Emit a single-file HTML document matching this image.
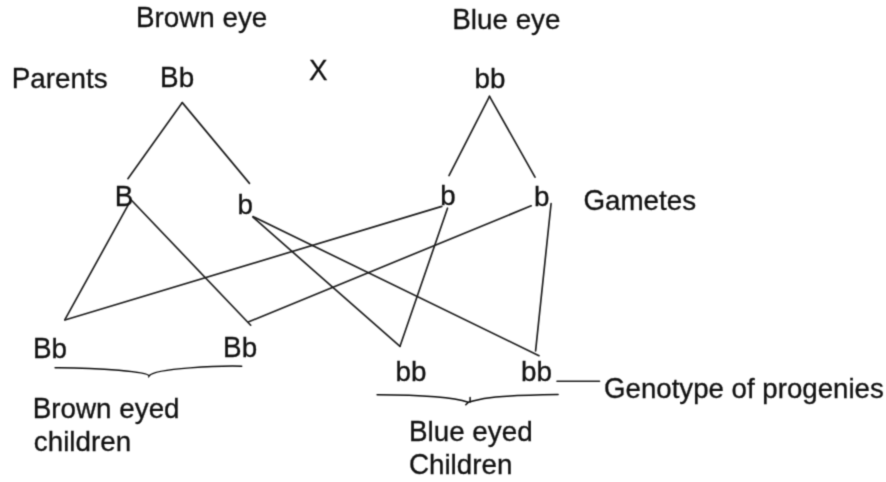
<!DOCTYPE html>
<html><head><meta charset="utf-8"><style>html,body{margin:0;padding:0;background:#fff;width:886px;height:482px;overflow:hidden}svg{position:absolute;left:0;top:0}text{font-family:"Liberation Sans",sans-serif;font-size:27.8px;fill:#111;stroke:#111;stroke-width:0.3px}tspan.h{fill:none;stroke:none}</style></head><body>
<svg width="886" height="482" viewBox="0 0 886 482">
<defs><filter id="bl" x="0" y="0" width="886" height="482" filterUnits="userSpaceOnUse" color-interpolation-filters="sRGB"><feConvolveMatrix order="3" kernelMatrix="0.02768 0.11101 0.02768 0.11101 0.44521 0.11101 0.02768 0.11101 0.02768" edgeMode="duplicate" preserveAlpha="false"/></filter></defs><g filter="url(#bl)"><rect width="886" height="482" fill="#fff"/>
<g stroke="#1c1c1c" stroke-width="1.65" fill="none" stroke-linecap="round" stroke-linejoin="round">
<line x1="182.3" y1="102.6" x2="127.9" y2="178.7"/>
<line x1="182.3" y1="102.6" x2="249.5" y2="183.4"/>
<line x1="489.5" y1="96.3" x2="449.0" y2="175.6"/>
<line x1="489.5" y1="96.3" x2="535.0" y2="177.2"/>
<line x1="128.2" y1="204.9" x2="64.9" y2="319.7"/>
<line x1="131.0" y1="199.8" x2="250.7" y2="325.2"/>
<line x1="441.8" y1="206.4" x2="64.9" y2="320.0"/>
<line x1="531.2" y1="205.8" x2="248.8" y2="321.8"/>
<line x1="253.0" y1="217.2" x2="400.0" y2="346.3"/>
<line x1="253.0" y1="216.6" x2="539.0" y2="355.7"/>
<line x1="447.5" y1="208.2" x2="400.0" y2="346.3"/>
<line x1="551.1" y1="203.5" x2="535.6" y2="350.9"/>
<line x1="557.0" y1="381.2" x2="599.5" y2="381.2"/>
</g>
<g stroke="#0a0a0a" stroke-width="1.5" fill="none" stroke-linecap="round" stroke-linejoin="miter">
<path d="M55.1 367.7 C 99.8 367.5, 149 371.8, 149 376 C 154.9 367.9, 221.6 365.7, 241.7 366.2"/>
<path d="M377.1 394.8 C 438.8 395, 460.7 399.7, 468.2 402.3 C 482 399, 485.8 395.5, 558.1 394.5"/>
<path d="M470.1 397.4 L470.1 402 M468.2 402.5 L465.8 404.8"/>

</g>
<text transform="translate(136.00 26.80) scale(1.0 1.04)">B<tspan class="h">r</tspan><tspan class="h">o</tspan><tspan class="h">w</tspan><tspan class="h">n</tspan> <tspan class="h">e</tspan><tspan class="h">y</tspan><tspan class="h">e</tspan></text>
<text transform="translate(136.00 26.80) scale(1.0 0.985)"><tspan class="h">B</tspan>rown eye</text>
<text transform="translate(452.30 28.90) scale(1.0 1.04)">B<tspan class="h">l</tspan><tspan class="h">u</tspan><tspan class="h">e</tspan> <tspan class="h">e</tspan><tspan class="h">y</tspan><tspan class="h">e</tspan></text>
<text transform="translate(452.30 28.90) scale(1.0 0.985)"><tspan class="h">B</tspan>lue eye</text>
<text transform="translate(11.80 87.80) scale(1.0 1.04)">P<tspan class="h">a</tspan><tspan class="h">r</tspan><tspan class="h">e</tspan><tspan class="h">n</tspan><tspan class="h">t</tspan><tspan class="h">s</tspan></text>
<text transform="translate(11.80 87.80) scale(1.0 0.985)"><tspan class="h">P</tspan>arents</text>
<text transform="translate(160.10 87.20) scale(1.0 1.04)">B<tspan class="h">b</tspan></text>
<text transform="translate(160.10 87.20) scale(1.0 0.985)"><tspan class="h">B</tspan>b</text>
<text transform="translate(308.90 80.00) scale(1.0 1.04)">X</text>
<text transform="translate(474.50 87.60) scale(1.0 0.985)">bb</text>
<text transform="translate(114.80 205.50) scale(1.0 1.04)">B</text>
<text transform="translate(237.40 214.20) scale(1.0 0.985)">b</text>
<text transform="translate(440.20 205.30) scale(1.0 0.985)">b</text>
<text transform="translate(534.00 206.00) scale(1.0 0.985)">b</text>
<text transform="translate(583.40 209.90) scale(1.0 1.04)">G<tspan class="h">a</tspan><tspan class="h">m</tspan><tspan class="h">e</tspan><tspan class="h">t</tspan><tspan class="h">e</tspan><tspan class="h">s</tspan></text>
<text transform="translate(583.40 209.90) scale(1.0 0.985)"><tspan class="h">G</tspan>ametes</text>
<text transform="translate(32.90 357.50) scale(1.0 1.04)">B<tspan class="h">b</tspan></text>
<text transform="translate(32.90 357.50) scale(1.0 0.985)"><tspan class="h">B</tspan>b</text>
<text transform="translate(223.10 357.30) scale(1.0 1.04)">B<tspan class="h">b</tspan></text>
<text transform="translate(223.10 357.30) scale(1.0 0.985)"><tspan class="h">B</tspan>b</text>
<text transform="translate(395.50 381.20) scale(1.0 0.985)">bb</text>
<text transform="translate(521.10 381.30) scale(1.0 0.985)">bb</text>
<text transform="translate(604.00 397.80) scale(0.995 1.04)">G<tspan class="h">e</tspan><tspan class="h">n</tspan><tspan class="h">o</tspan><tspan class="h">t</tspan><tspan class="h">y</tspan><tspan class="h">p</tspan><tspan class="h">e</tspan> <tspan class="h">o</tspan><tspan class="h">f</tspan> <tspan class="h">p</tspan><tspan class="h">r</tspan><tspan class="h">o</tspan><tspan class="h">g</tspan><tspan class="h">e</tspan><tspan class="h">n</tspan><tspan class="h">i</tspan><tspan class="h">e</tspan><tspan class="h">s</tspan></text>
<text transform="translate(604.00 397.80) scale(0.995 0.985)"><tspan class="h">G</tspan>enotype of progenies</text>
<text transform="translate(32.80 417.60) scale(1.0 1.04)">B<tspan class="h">r</tspan><tspan class="h">o</tspan><tspan class="h">w</tspan><tspan class="h">n</tspan> <tspan class="h">e</tspan><tspan class="h">y</tspan><tspan class="h">e</tspan><tspan class="h">d</tspan></text>
<text transform="translate(32.80 417.60) scale(1.0 0.985)"><tspan class="h">B</tspan>rown eyed</text>
<text transform="translate(33.80 450.70) scale(1.0 0.985)">children</text>
<text transform="translate(409.00 440.80) scale(1.0 1.04)">B<tspan class="h">l</tspan><tspan class="h">u</tspan><tspan class="h">e</tspan> <tspan class="h">e</tspan><tspan class="h">y</tspan><tspan class="h">e</tspan><tspan class="h">d</tspan></text>
<text transform="translate(409.00 440.80) scale(1.0 0.985)"><tspan class="h">B</tspan>lue eyed</text>
<text transform="translate(408.90 473.80) scale(1.0 1.04)">C<tspan class="h">h</tspan><tspan class="h">i</tspan><tspan class="h">l</tspan><tspan class="h">d</tspan><tspan class="h">r</tspan><tspan class="h">e</tspan><tspan class="h">n</tspan></text>
<text transform="translate(408.90 473.80) scale(1.0 0.985)"><tspan class="h">C</tspan>hildren</text>
</g></svg></body></html>
